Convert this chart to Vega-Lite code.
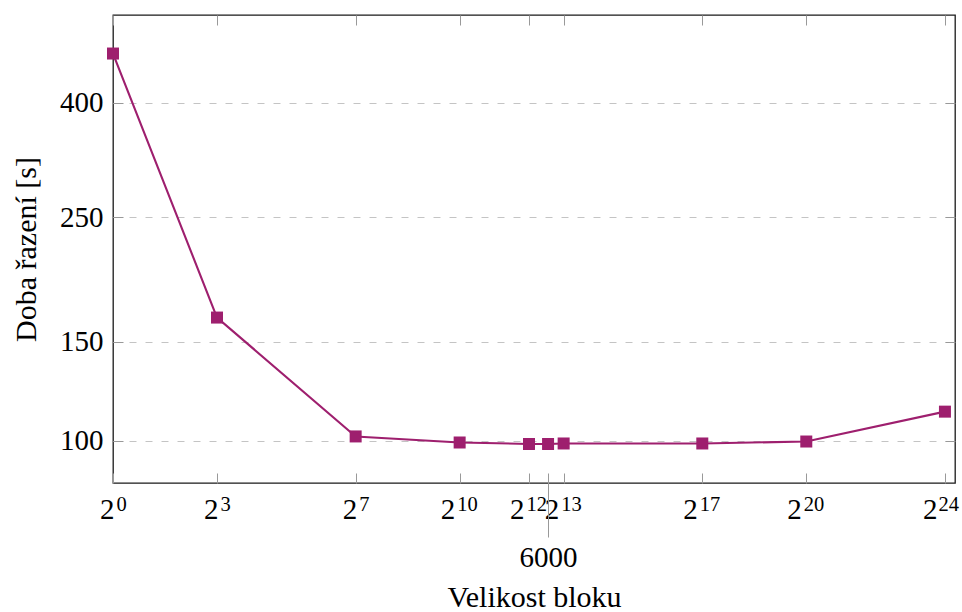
{
  "$schema": "https://vega.github.io/schema/vega-lite/v6.json",
  "width": 842,
  "height": 468,
  "autosize": {"type": "none"},
  "padding": {"left": 113, "top": 15, "right": 7, "bottom": 129},
  "background": "white",
  "config": {
    "view": {"stroke": "#1a1a1a", "strokeWidth": 1.3},
    "font": "Liberation Serif"
  },
  "data": {
    "values": [
      {"n": 1, "t": 490},
      {"n": 8, "t": 165.7},
      {"n": 128, "t": 101.7},
      {"n": 1024, "t": 99.2},
      {"n": 4096, "t": 98.6},
      {"n": 6000, "t": 98.6},
      {"n": 8192, "t": 98.8},
      {"n": 131072, "t": 98.8},
      {"n": 1048576, "t": 99.6},
      {"n": 16777216, "t": 112.6}
    ]
  },
  "resolve": {"axis": {"x": "independent", "y": "independent"}},
  "layer": [
    {
      "mark": {
        "type": "line",
        "color": "#9e1f6e",
        "strokeWidth": 2.1,
        "point": {"shape": "square", "size": 144, "filled": true, "fill": "#9e1f6e", "opacity": 1}
      },
      "encoding": {
        "x": {
          "field": "n", "type": "quantitative",
          "scale": {"type": "log", "base": 2, "domain": [1, 20512000], "nice": false, "zero": false},
          "axis": {
            "orient": "bottom", "title": null, "domain": false, "grid": false,
            "values": [1, 8, 128, 1024, 4096, 8192, 131072, 1048576, 16777216],
            "labelExpr": "'2'",
            "labelFont": "Liberation Serif", "labelFontSize": 29, "labelColor": "black",
            "labelAlign": "right", "labelBaseline": "top", "labelPadding": 22,
            "labelFlush": false, "labelOverlap": false, "labelBound": false,
            "labelOffset": {"condition": [{"test": "datum.value >= 16777216", "value": -8}, {"test": "datum.value >= 1024", "value": -5}], "value": 1},
            "tickSize": -10, "tickColor": "#999999", "tickWidth": 1
          }
        },
        "y": {
          "field": "t", "type": "quantitative",
          "scale": {"type": "log", "domain": [84, 574], "nice": false, "zero": false},
          "axis": {
            "orient": "left", "domain": false,
            "values": [100, 150, 250, 400],
            "labelFont": "Liberation Serif", "labelFontSize": 29, "labelColor": "black",
            "labelPadding": 20, "labelOverlap": false, "labelFlush": false,
            "tickSize": -10, "tickColor": "#999999", "tickWidth": 1,
            "grid": true, "gridDash": [7, 9], "gridColor": "#c4c4c4", "gridWidth": 1,
            "title": "Doba řazení [s]", "titleFont": "Liberation Serif", "titleFontSize": 30,
            "titleFontWeight": "normal", "titleColor": "black",
            "titleAngle": -90, "titleX": -78, "titleY": 234, "titleAlign": "center", "titleBaseline": "alphabetic"
          }
        }
      }
    },
    {
      "mark": {"type": "point", "opacity": 0},
      "encoding": {
        "x": {
          "field": "n", "type": "quantitative",
          "scale": {"type": "log", "base": 2, "domain": [1, 20512000], "nice": false, "zero": false},
          "axis": {
            "orient": "bottom", "title": null, "domain": false, "grid": false,
            "tickSize": 0, "tickOpacity": 0,
            "values": [1, 8, 128, 1024, 4096, 8192, 131072, 1048576, 16777216],
            "labelExpr": "'' + round(log(datum.value) / LN2)",
            "labelFont": "Liberation Serif", "labelFontSize": 20.5, "labelColor": "black",
            "labelAlign": "left", "labelBaseline": "top", "labelPadding": 11,
            "labelFlush": false, "labelOverlap": false, "labelBound": false,
            "labelOffset": {"condition": [{"test": "datum.value >= 16777216", "value": -7}, {"test": "datum.value >= 1024", "value": -3}], "value": 3}
          }
        },
        "y": {
          "field": "t", "type": "quantitative",
          "scale": {"type": "log", "domain": [84, 574], "nice": false, "zero": false},
          "axis": {
            "orient": "right", "title": null, "domain": false, "grid": false, "labels": false,
            "values": [100, 150, 250, 400],
            "tickSize": -10, "tickColor": "#999999", "tickWidth": 1
          }
        }
      }
    },
    {
      "mark": {"type": "point", "opacity": 0},
      "encoding": {
        "x": {
          "field": "n", "type": "quantitative",
          "scale": {"type": "log", "base": 2, "domain": [1, 20512000], "nice": false, "zero": false},
          "axis": {
            "orient": "bottom", "offset": -10, "domain": false, "grid": false,
            "values": [6000],
            "labelExpr": "'6000'",
            "labelFont": "Liberation Serif", "labelFontSize": 29, "labelColor": "black",
            "labelAlign": "center", "labelBaseline": "top", "labelPadding": 6,
            "labelFlush": false, "labelOverlap": false, "labelBound": false,
            "tickSize": 64, "tickColor": "#999999", "tickWidth": 1,
            "title": "Velikost bloku", "titleFont": "Liberation Serif", "titleFontSize": 30,
            "titleFontWeight": "normal", "titleColor": "black",
            "titleX": 421, "titleY": 133, "titleAlign": "center", "titleBaseline": "alphabetic"
          }
        },
        "y": {
          "field": "t", "type": "quantitative",
          "scale": {"type": "log", "domain": [84, 574], "nice": false, "zero": false},
          "axis": null
        }
      }
    },
    {
      "mark": {"type": "point", "opacity": 0},
      "encoding": {
        "x": {
          "field": "n", "type": "quantitative",
          "scale": {"type": "log", "base": 2, "domain": [1, 20512000], "nice": false, "zero": false},
          "axis": {
            "orient": "top", "title": null, "domain": false, "grid": false, "labels": false,
            "values": [1, 8, 128, 1024, 4096, 8192, 131072, 1048576, 16777216],
            "tickSize": -10, "tickColor": "#999999", "tickWidth": 1
          }
        },
        "y": {
          "field": "t", "type": "quantitative",
          "scale": {"type": "log", "domain": [84, 574], "nice": false, "zero": false},
          "axis": null
        }
      }
    }
  ]
}
